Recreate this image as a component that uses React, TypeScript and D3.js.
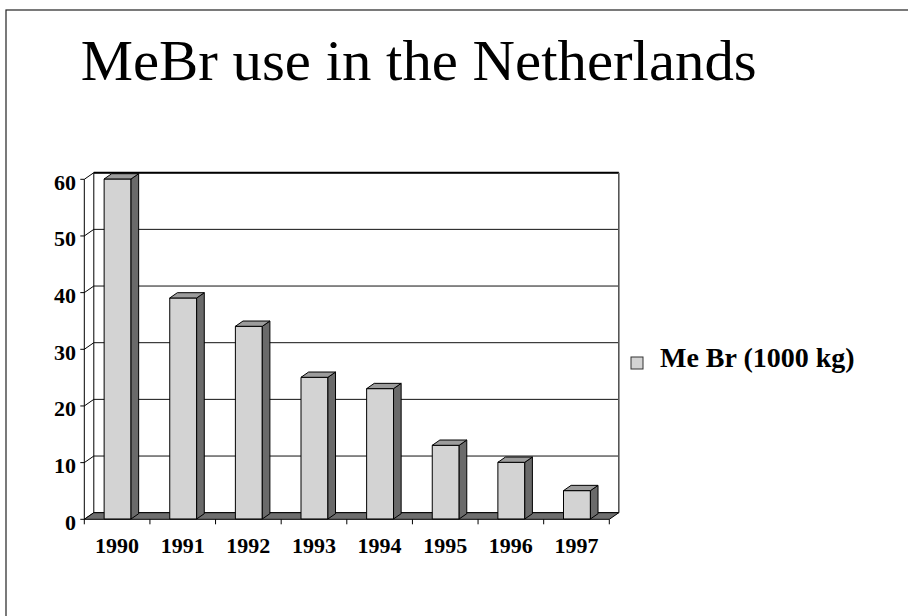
import React from 'react';
import * as d3 from 'd3';

const title = 'MeBr use in the Netherlands';
const years = ['1990', '1991', '1992', '1993', '1994', '1995', '1996', '1997'];
const values = [60, 39, 34, 25, 23, 13, 10, 5];
const yTicks = [0, 10, 20, 30, 40, 50, 60];
const legendLabel = 'Me Br (1000 kg)';

const W = 908;
const H = 616;
const FONT = '"Liberation Serif", "Times New Roman", Times, serif';

export default function App() {
  const x0 = 84.3;
  const x1 = 609.3;
  const dx = 9.5;
  const dy = -6.6;
  const y = d3.scaleLinear().domain([0, 60]).range([519.3, 179.3]);
  const xb = d3.scaleBand<string>().domain(years).range([x0, x1]).paddingInner(0).paddingOuter(0);
  const bw = xb.bandwidth();
  const barW = bw * 0.41;
  const f0 = 0.05;
  const f1 = 0.85;
  const ddx = (f1 - f0) * dx;
  const ddy = (f1 - f0) * dy;
  const yb0 = y(0) + dy;
  const yb60 = y(60) + dy;

  const pts = (arr: number[][]) => arr.map((p) => p.join(',')).join(' ');

  return (
    <svg width={W} height={H} style={{ position: 'absolute', left: 0, top: 0, background: '#fff' }}>
      {/* outer frame */}
      <rect x={6} y={10} width={1200} height={1200} fill="none" stroke="#222" strokeWidth={1.2} />
      {/* title */}
      <text x={80.7} y={80} fontFamily={FONT} fontSize={56} textLength={676} lengthAdjust="spacingAndGlyphs" fill="#000">
        {title}
      </text>

      {/* back wall */}
      <rect x={x0 + dx} y={yb60} width={x1 - x0} height={yb0 - yb60} fill="#fff" />
      {yTicks.map((t) => (
        <line key={'g' + t} x1={x0 + dx} x2={x1 + dx} y1={y(t) + dy} y2={y(t) + dy} stroke="#111" strokeWidth={1} />
      ))}
      <line x1={x0 + dx} x2={x1 + dx} y1={yb60} y2={yb60} stroke="#000" strokeWidth={2} />
      <line x1={x1 + dx} x2={x1 + dx} y1={yb60} y2={yb0} stroke="#555" strokeWidth={1.6} />

      {/* left wall */}
      <line x1={x0} x2={x0} y1={y(0)} y2={y(60)} stroke="#000" strokeWidth={1} />
      <line x1={x0 + dx} x2={x0 + dx} y1={yb0} y2={yb60} stroke="#000" strokeWidth={1} />
      {yTicks.map((t) => (
        <line key={'lw' + t} x1={x0} x2={x0 + dx} y1={y(t)} y2={y(t) + dy} stroke="#000" strokeWidth={1} />
      ))}

      {/* floor */}
      <polygon
        points={pts([
          [x0, y(0)],
          [x1, y(0)],
          [x1 + dx, yb0],
          [x0 + dx, yb0],
        ])}
        fill="#6e6e6e"
        stroke="#000"
        strokeWidth={1}
      />

      {/* y ticks */}
      {yTicks.map((t) => (
        <g key={'yt' + t}>
          <line x1={x0 - 4} x2={x0} y1={y(t)} y2={y(t)} stroke="#000" strokeWidth={1} />
          <text x={76} y={y(t) + 10.5} textAnchor="end" fontFamily={FONT} fontWeight="bold" fontSize={22} fill="#000">
            {t}
          </text>
        </g>
      ))}

      {/* x ticks */}
      {[...years.map((yr) => xb(yr) as number), x1].map((xv, i) => (
        <line key={'xt' + i} x1={xv} x2={xv} y1={y(0)} y2={y(0) + 5} stroke="#000" strokeWidth={1} />
      ))}

      {/* bars */}
      {years.map((yr, i) => {
        const cx = (xb(yr) as number) + bw / 2;
        const xl = cx - barW / 2 + f0 * dx;
        const xr = xl + barW;
        const yt = y(values[i]) + f0 * dy;
        const ybot = y(0) + f0 * dy;
        return (
          <g key={'b' + yr} stroke="#000" strokeWidth={1} strokeLinejoin="round">
            <rect x={xl} y={yt} width={barW} height={ybot - yt} fill="#d3d3d3" />
            <polygon
              points={pts([
                [xr, yt],
                [xr + ddx, yt + ddy],
                [xr + ddx, ybot + ddy],
                [xr, ybot],
              ])}
              fill="#6a6a6a"
            />
            <polygon
              points={pts([
                [xl, yt],
                [xr, yt],
                [xr + ddx, yt + ddy],
                [xl + ddx, yt + ddy],
              ])}
              fill="#9c9c9c"
            />
          </g>
        );
      })}

      {/* x labels */}
      {years.map((yr) => (
        <text
          key={'xl' + yr}
          x={(xb(yr) as number) + bw / 2}
          y={553.3}
          textAnchor="middle"
          fontFamily={FONT}
          fontWeight="bold"
          fontSize={22}
          fill="#000"
        >
          {yr}
        </text>
      ))}

      {/* legend */}
      <rect x={631} y={357} width={12} height={12} fill="#d3d3d3" stroke="#333" strokeWidth={1} />
      <text x={660} y={367} fontFamily={FONT} fontWeight="bold" fontSize={28} fill="#000">
        {legendLabel}
      </text>
    </svg>
  );
}
